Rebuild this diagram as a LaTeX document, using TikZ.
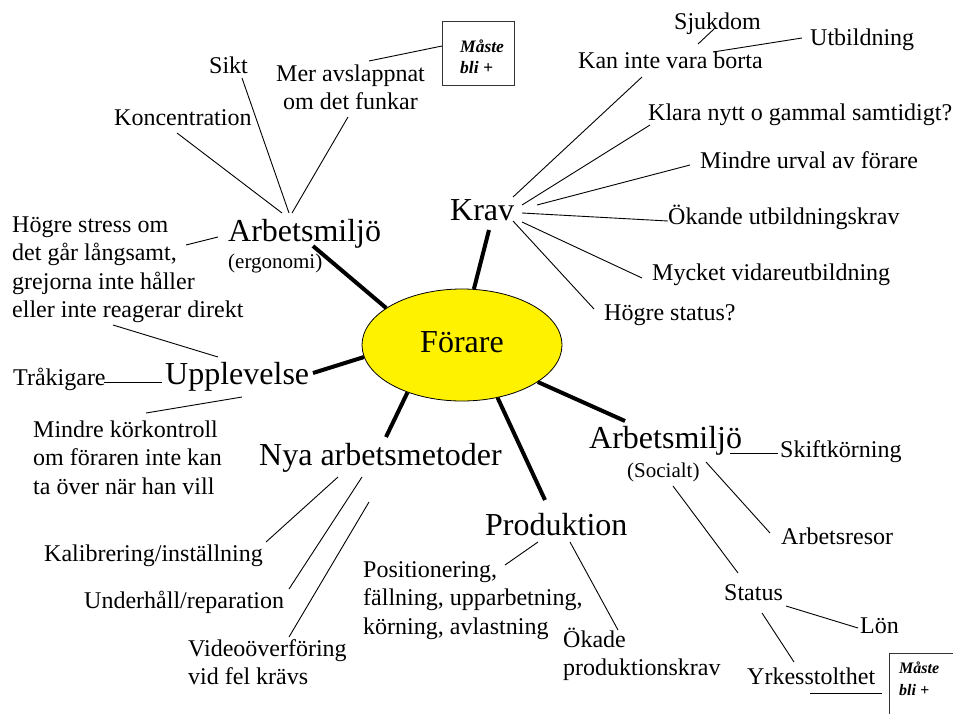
\documentclass[tikz,border=0pt]{standalone}
\usepackage{fontspec}
\setmainfont{Liberation Serif}
\usetikzlibrary{shapes.geometric}

% multi-line labels whose baseline is that of the first line
\newcommand\stackl[1]{\begin{tabular}[t]{@{}l@{}}#1\end{tabular}}
\newcommand\stackc[1]{\begin{tabular}[t]{@{}c@{}}#1\end{tabular}}

\tikzset{
  lbl/.style={anchor=base west, inner sep=0pt, font=\fontsize{24}{28.5}\selectfont},
  topic/.style={anchor=base west, inner sep=0pt, font=\fontsize{32}{36}\selectfont},
  sub/.style={anchor=base west, inner sep=0pt, font=\fontsize{21}{25}\selectfont},
  note/.style={anchor=base west, inner sep=0pt, font=\fontsize{17.5}{21.5}\selectfont\bfseries\itshape},
  notesmall/.style={anchor=base west, inner sep=0pt, font=\fontsize{16}{22}\selectfont\bfseries\itshape},
  twig/.style={line width=0.9pt},
  branch/.style={line width=4pt},
  frame/.style={line width=0.8pt, draw=black!80},
}

\begin{document}
\begin{tikzpicture}[x=1pt,y=-1pt]
\useasboundingbox (0,0) rectangle (953,713);
\clip (0,0) rectangle (953,713);

% centre
\node[ellipse, draw, line width=0.8pt, fill=yellow, minimum width=200pt, minimum height=112pt,
      inner sep=0pt, text height=22pt, text depth=8pt, font=\fontsize{32}{36}\selectfont]
      (forare) at (462,345) {Förare};

% main topics
\node[topic] (arbE) at (228,241) {Arbetsmiljö};
\node[sub]   (ergo) at (228,268) {(ergonomi)};
\node[topic] (krav) at (450,220) {Krav};
\node[topic] (upp)  at (165,384) {Upplevelse};
\node[topic] (nya)  at (259,465) {Nya arbetsmetoder};
\node[topic] (prod) at (485,535) {Produktion};
\node[topic] (arbS) at (589,448) {Arbetsmiljö};
\node[sub]   (soc)  at (627,477) {(Socialt)};

% Arbetsmiljö (ergonomi)
\node[lbl] (sikt) at (209,73) {Sikt};
\node[lbl] (mer)  at (276,81) {\stackc{Mer avslappnat\\om det funkar}};
\node[lbl] (konc) at (114,125) {Koncentration};
\node[note] (must1) at (460,52) {\stackl{Måste\\bli +}};
\node[lbl] (hogre) at (12,232) {\stackl{Högre stress om\\det går långsamt,\\grejorna inte håller\\eller inte reagerar direkt}};

% Krav
\node[lbl] (sjuk)   at (674,29)  {Sjukdom};
\node[lbl] (utb)    at (810,45)  {Utbildning};
\node[lbl] (kan)    at (578,68)  {Kan inte vara borta};
\node[lbl] (klara)  at (648,120) {Klara nytt o gammal samtidigt?};
\node[lbl] (mindre) at (700,168) {Mindre urval av förare};
\node[lbl] (okande) at (668,224) {Ökande utbildningskrav};
\node[lbl] (mycket) at (652,280) {Mycket vidareutbildning};
\node[lbl] (hstat)  at (604,320) {Högre status?};

% Upplevelse
\node[lbl] (trak) at (13,385) {Tråkigare};
\node[lbl] (mkk)  at (33,437) {\stackl{Mindre körkontroll\\om föraren inte kan\\ta över när han vill}};

% Nya arbetsmetoder
\node[lbl] (kalib) at (44,561)  {Kalibrering/inställning};
\node[lbl] (under) at (84,608)  {Underhåll/reparation};
\node[lbl] (video) at (188,656) {\stackl{Videoöverföring\\vid fel krävs}};

% Produktion
\node[lbl] (pos)   at (363,577) {\stackl{Positionering,\\fällning, upparbetning,\\körning, avlastning}};
\node[lbl] (okade) at (563,647) {\stackl{Ökade\\produktionskrav}};

% Arbetsmiljö (Socialt)
\node[lbl] (skift)  at (780,457) {Skiftkörning};
\node[lbl] (resor)  at (781,544) {Arbetsresor};
\node[lbl] (status) at (724,600) {Status};
\node[lbl] (lon)    at (860,633) {Lön};
\node[lbl] (yrke)   at (747,684) {Yrkesstolthet};
\node[notesmall] (must2) at (899,673) {\stackl{Måste\\bli +}};

% frames round the notes
\draw[frame] ([shift={(-18,-31)}]must1.base west) rectangle ([shift={(54,33)}]must1.base west);
\draw[frame] ([shift={(-10,-20)}]must2.base west) rectangle ([shift={(70,50)}]must2.base west);

% thick branches from the centre
\draw[branch] (forare.154) -- ([shift={(85,5)}]arbE.base west);
\draw[branch] (forare.78)  -- ([shift={(39,10)}]krav.base west);
\draw[branch] (forare.187) -- ([shift={(148,-11)}]upp.base west);
\draw[branch] (forare.221) -- ([shift={(127,-28)}]nya.base west);
\draw[branch] (forare.304) -- ([shift={(60,-35)}]prod.base west);
\draw[branch] (forare.334) -- ([shift={(36,-27)}]arbS.base west);

% Arbetsmiljö (ergonomi) twigs
\draw[twig] ([shift={(63,8)}]konc.base west)  -- ([shift={(54,-28)}]arbE.base west);
\draw[twig] ([shift={(33,5)}]sikt.base west)  -- ([shift={(61,-28)}]arbE.base west);
\draw[twig] ([shift={(72,36)}]mer.base west)  -- ([shift={(64,-28)}]arbE.base west);
\draw[twig] ([shift={(93,-20)}]mer.base west) -- ([shift={(-18,-6)}]must1.base west);
\draw[twig] ([shift={(174,13)}]hogre.base west) -- ([shift={(-10,-4)}]arbE.base west);
\draw[twig] ([shift={(101,93)}]hogre.base west) -- ([shift={(53,-27)}]upp.base west);

% Krav twigs
\draw[twig] ([shift={(64,9)}]kan.base west)     -- ([shift={(63,-23)}]krav.base west);
\draw[twig] ([shift={(2,5)}]klara.base west)    -- ([shift={(72,-15)}]krav.base west);
\draw[twig] ([shift={(-10,-3)}]mindre.base west) -- ([shift={(87,-15)}]krav.base west);
\draw[twig] ([shift={(0,-3)}]okande.base west)  -- ([shift={(72,-7)}]krav.base west);
\draw[twig] ([shift={(-10,-2)}]mycket.base west) -- ([shift={(72,2)}]krav.base west);
\draw[twig] ([shift={(-10,-11)}]hstat.base west) -- ([shift={(63,1)}]krav.base west);
\draw[twig] ([shift={(40,0)}]sjuk.base west)    -- ([shift={(120,-24)}]kan.base west);
\draw[twig] ([shift={(-8,-7)}]utb.base west)    -- ([shift={(135,-16)}]kan.base west);

% Upplevelse twigs
\draw[twig] ([shift={(91,-3)}]trak.base west)  -- ([shift={(-3,-2)}]upp.base west);
\draw[twig] ([shift={(113,-24)}]mkk.base west) -- ([shift={(77,13)}]upp.base west);

% Nya arbetsmetoder twigs
\draw[twig] ([shift={(79,12)}]nya.base west)  -- ([shift={(222,-19)}]kalib.base west);
\draw[twig] ([shift={(103,12)}]nya.base west) -- ([shift={(205,-19)}]under.base west);
\draw[twig] ([shift={(110,37)}]nya.base west) -- ([shift={(101,-19)}]video.base west);

% Produktion twigs
\draw[twig] ([shift={(53,7)}]prod.base west) -- ([shift={(142,-12)}]pos.base west);
\draw[twig] ([shift={(85,7)}]prod.base west) -- ([shift={(55,-17)}]okade.base west);

% Arbetsmiljö (Socialt) twigs
\draw[twig] ([shift={(141,5)}]arbS.base west)  -- ([shift={(-2,-4)}]skift.base west);
\draw[twig] ([shift={(117,14)}]arbS.base west) -- ([shift={(-11,-11)}]resor.base west);
\draw[twig] ([shift={(46,9)}]soc.base west)    -- ([shift={(14,-27)}]status.base west);
\draw[twig] ([shift={(62,6)}]status.base west) -- ([shift={(-2,-5)}]lon.base west);
\draw[twig] ([shift={(38,13)}]status.base west) -- ([shift={(47,-22)}]yrke.base west);
\draw[twig] ([shift={(63,9)}]yrke.base west)   -- ([shift={(-17,20)}]must2.base west);
\end{tikzpicture}
\end{document}
